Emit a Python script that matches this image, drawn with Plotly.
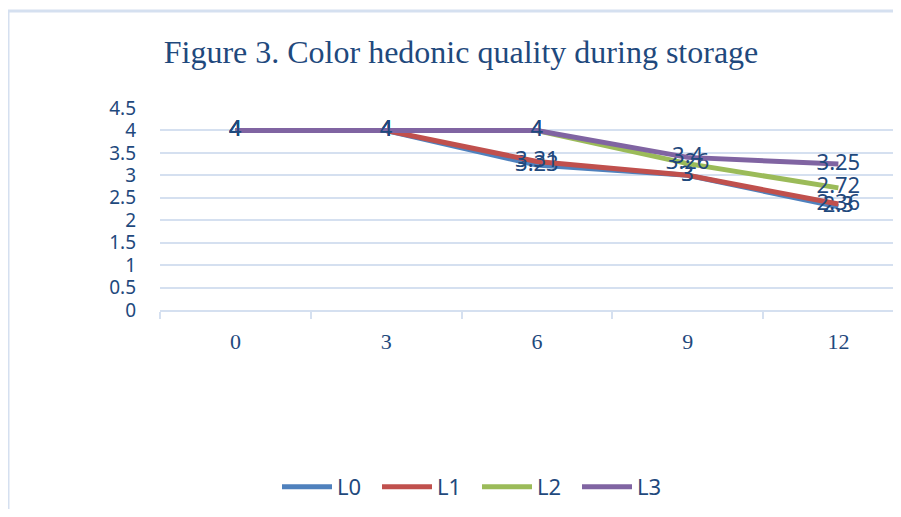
import plotly.graph_objects as go

weeks = ["0", "3", "6", "9", "12"]
series_names = ["L0", "L1", "L2", "L3"]
L0 = [4, 4, 3.23, 3, 2.3]
L1 = [4, 4, 3.31, 3, 2.36]
L2 = [4, 4, 4, 3.26, 2.72]
L3 = [4, 4, 4, 3.4, 3.25]
colors = ["#4f81bd", "#c0504d", "#9bbb59", "#8064a2"]
y_ticks = [0, 0.5, 1, 1.5, 2, 2.5, 3, 3.5, 4, 4.5]
y_ticktext = ["0", "0.5", "1", "1.5", "2", "2.5", "3", "3.5", "4", "4.5"]

x_pos = list(range(len(weeks)))
label_color = "#1f497d"
grid_color = "#d5e0f0"

W, H = 885, 501
L, T, B = 152, 100, 199
pw = W - L
ph = H - T - B

fig = go.Figure()
for name, vals, col in zip(series_names, [L0, L1, L2, L3], colors):
    fig.add_trace(go.Scatter(
        x=x_pos, y=vals, name=name, mode="lines+text",
        line=dict(color=col, width=5),
        text=[f"{v:g}" for v in vals], textposition="middle center",
        textfont=dict(family="Noto Sans", size=22, color=label_color),
    ))

fig.update_layout(
    width=W, height=H,
    margin=dict(l=L, r=0, t=T, b=B),
    paper_bgcolor="white", plot_bgcolor="white",
    title=dict(text="Figure 3. Color hedonic quality during storage",
               x=453 / W, xanchor="center", y=1 - 44 / H, yanchor="middle",
               font=dict(family="Liberation Serif", size=32, color=label_color)),
    showlegend=True,
    legend=dict(orientation="h", x=(469 - L) / pw, xanchor="center",
                y=-(479 - (T + ph)) / ph, yanchor="middle",
                font=dict(family="Noto Sans", size=22, color=label_color),
                itemwidth=50, entrywidth=35, entrywidthmode="pixels",
                traceorder="normal"),
    xaxis=dict(range=[-0.5, -0.5 + pw / 150.75], tickmode="array",
               tickvals=x_pos, ticktext=weeks, ticks="", showgrid=False,
               showline=True, linecolor=grid_color, linewidth=2,
               tickfont=dict(family="Liberation Serif", size=22, color=label_color),
               ticklabelstandoff=11, zeroline=False,
               minor=dict(tickmode="array", tickvals=[-0.5, 0.5, 1.5, 2.5, 3.5, 4.5],
                          ticks="outside", ticklen=7, tickcolor=grid_color, tickwidth=1.5,
                          showgrid=False)),
    yaxis=dict(range=[0, 4.5], tickmode="array", tickvals=y_ticks, ticktext=y_ticktext,
               showgrid=True, gridcolor=grid_color, gridwidth=1.5, zeroline=False,
               ticks="", ticklabelstandoff=23,
               tickfont=dict(family="Noto Sans", size=19, color=label_color)),
    shapes=[dict(type="rect", xref="paper", yref="paper",
                 x0=(0 - L) / pw, x1=1.3, y0=-3, y1=(T + ph - 3) / ph,
                 line=dict(color=grid_color, width=3), layer="below")],
)

fig.write_html("out.html")
